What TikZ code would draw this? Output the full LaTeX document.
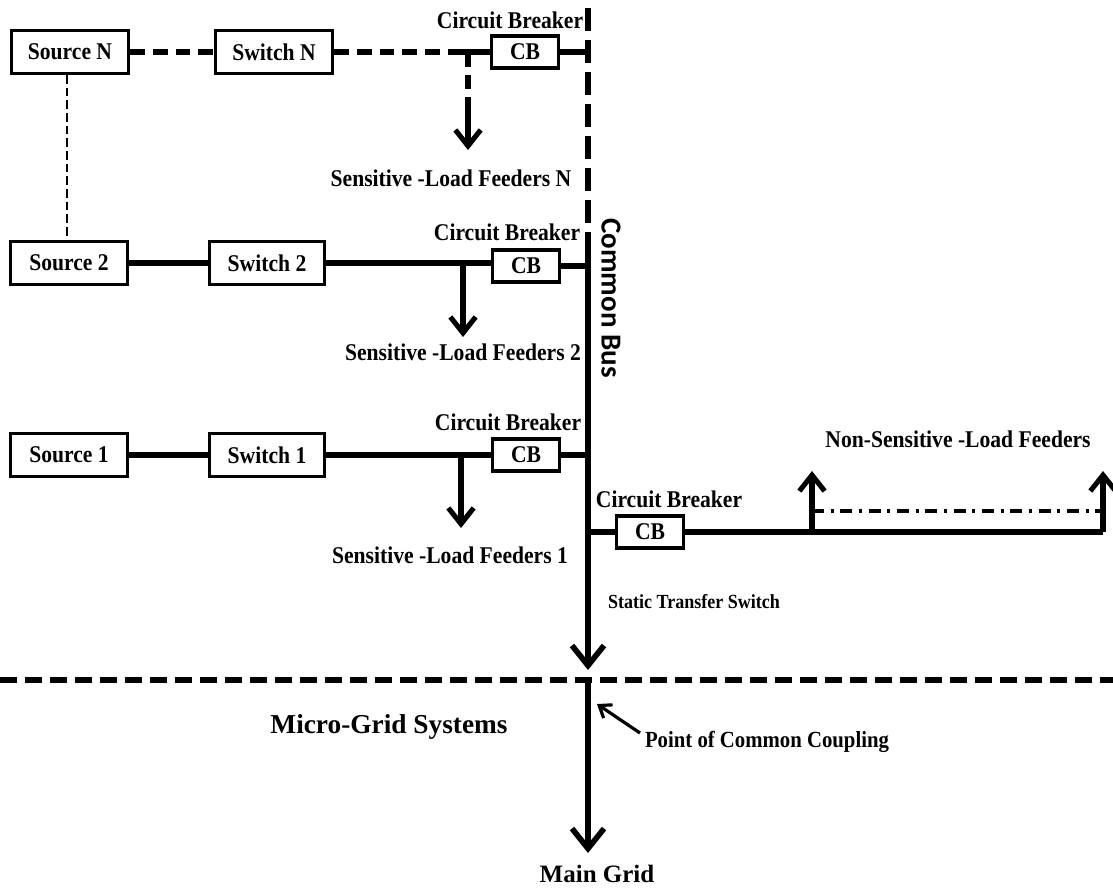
\documentclass[tikz,border=0pt]{standalone}
\usepackage{fontspec}
\setmainfont{Liberation Serif}
\newfontfamily\lblfont{Liberation Serif}[FakeStretch=0.9]
\newfontfamily\busfont{Carlito}
\usetikzlibrary{arrows.meta}
\newcommand\lbl{\lblfont\bfseries\fontsize{18}{21}\selectfont}
\newcommand\smlbl{\lblfont\bfseries\fontsize{15}{18}\selectfont}
\newcommand\pcclbl{\lblfont\bfseries\fontsize{17.3}{20}\selectfont}
\newcommand\biglbl{\bfseries\fontsize{20.5}{24}\selectfont}
\newcommand\gridlbl{\bfseries\fontsize{18.75}{22}\selectfont}
\tikzset{
  box/.style={draw, line width=2.5pt, inner sep=0pt, font=\lbl},
  srcbox/.style={box, minimum width=88pt, minimum height=32pt},
  swbox/.style={box, minimum width=86pt, minimum height=32pt},
  cbbox/.style={box, minimum width=50pt, minimum height=24pt},
  txt/.style={inner sep=0pt, font=\lbl},
  wire/.style={line width=3.8pt},
  wiredash/.style={line width=4pt, dash pattern=on 11pt off 6pt},
  thindash/.style={line width=2pt, dash pattern=on 6.5pt off 3pt},
  busdash/.style={line width=5.2pt, dash pattern=on 17.25pt off 6.75pt},
  bus/.style={line width=4.2pt},
  hdash/.style={line width=3.9pt, dash pattern=on 12.75pt off 6pt},
  ddot/.style={line width=2.6pt, dash pattern=on 9pt off 5pt on 2.25pt off 5pt},
  tip/.style={-{Straight Barb[length=12pt,width=19pt]}},
  bigtip/.style={-{Straight Barb[length=15pt,width=24pt]}},
}
\begin{document}
\begin{tikzpicture}[x=0.75pt,y=-0.75pt]
\useasboundingbox (0,0) rectangle (1113,890);

% ---------- boxes ----------
\node[srcbox] (srcN) at (70,52) {Source N};
\node[srcbox] (swN) at (274,52) {Switch N};
\node[cbbox] (cbN) at (525,52) {CB};

\node[srcbox] (src2) at (69,263) {Source 2};
\node[swbox] (sw2) at (267,263) {Switch 2};
\node[cbbox] (cb2) at (526,266) {CB};

\node[srcbox] (src1) at (69,455) {Source 1};
\node[swbox] (sw1) at (267,455) {Switch 1};
\node[cbbox] (cb1) at (526,455) {CB};

\node[cbbox] (cb4) at (650,532) {CB};

% ---------- labels ----------
\node[txt] (lcbN) at (510,20) {Circuit Breaker};
\node[txt] (lcb2) at (507,232) {Circuit Breaker};
\node[txt] (lcb1) at (508,422) {Circuit Breaker};
\node[txt] (lcb4) at (669,499) {Circuit Breaker};
\node[txt] (lfN) at (451,178) {Sensitive -Load Feeders N};
\node[txt] (lf2) at (463,352) {Sensitive -Load Feeders 2};
\node[txt] (lf1) at (450,555) {Sensitive -Load Feeders 1};
\node[txt] (lnsf) at (958,439) {Non-Sensitive -Load Feeders};
\node[inner sep=0pt, font=\smlbl] (lsts) at (694,602) {Static Transfer Switch};
\node[inner sep=0pt, font=\pcclbl] (lpcc) at (767,742) {Point of Common Coupling};
\node[inner sep=0pt, font=\biglbl] (lmg) at (389,727) {Micro-Grid Systems};
\node[inner sep=0pt, font=\gridlbl] (lgrid) at (597,874) {Main Grid};
\node[inner sep=0pt, rotate=-90, font=\busfont\bfseries\fontsize{21.75}{24}\selectfont] (lbus) at (611,298) {Common Bus};

% ---------- coordinates ----------
\coordinate (busTop) at (588,8);
\coordinate (busMid) at (588,247);
\coordinate (busArr) at (588,670);
\coordinate (pcc) at (588,680);
\coordinate (gridEnd) at (588,853);
\coordinate (hl) at (0,680);
\coordinate (hr) at (1113,680);

\coordinate (jNd) at (458,52);
\coordinate (jN) at (468,52);
\coordinate (jNm) at (468,112);
\coordinate (tipN) at (468,150);
\coordinate (j2) at (463,263);
\coordinate (tip2) at (463,337);
\coordinate (j1) at (461,455);
\coordinate (tip1) at (461,528);

\coordinate (b4) at (588,532);
\coordinate (r1) at (812,532);
\coordinate (r2) at (1103,532);
\coordinate (r1t) at (812,471);
\coordinate (r2t) at (1103,471);
\coordinate (d1) at (812,511);
\coordinate (d2) at (1103,511);

\coordinate (pccFrom) at (640,733);
\coordinate (pccTo) at (597,704);

% ---------- bus ----------
\draw[busdash] (busTop) -- (busMid);
\draw[bus, bigtip] (busMid) -- (busArr);
\draw[hdash] (hl) -- (hr);
\draw[bus, bigtip] (pcc) -- (gridEnd);

% ---------- row N ----------
\draw[thindash] (srcN.south -| 67,0) -- (src2.north -| 67,0);
\draw[wiredash] (srcN) -- (swN);
\draw[wiredash] (swN) -- (jNd);
\draw[wire] (jNd) -- (cbN);
\draw[wire] (cbN) -- (cbN -| busTop);
\draw[wiredash] (jN) -- (jNm);
\draw[wire, tip] (jNm) -- (tipN);

% ---------- row 2 ----------
\draw[wire] (src2) -- (sw2);
\draw[wire] (sw2.east) -- (cb2.west |- sw2.east);
\draw[wire] (cb2) -- (cb2 -| busTop);
\draw[wire, tip] (j2) -- (tip2);

% ---------- row 1 ----------
\draw[wire] (src1) -- (sw1);
\draw[wire] (sw1) -- (cb1);
\draw[wire] (cb1) -- (cb1 -| busTop);
\draw[wire, tip] (j1) -- (tip1);

% ---------- non-sensitive branch ----------
\draw[wire] (b4) -- (cb4);
\draw[wire] (cb4) -- (r2);
\draw[wire, tip] (r1) -- (r1t);
\draw[wire, tip] (r2) -- (r2t);
\draw[ddot] (d1) -- (d2);

% ---------- PCC pointer ----------
\draw[line width=2.4pt, -{Straight Barb[length=8pt,width=12pt]}] (pccFrom) -- (pccTo);
\end{tikzpicture}
\end{document}
